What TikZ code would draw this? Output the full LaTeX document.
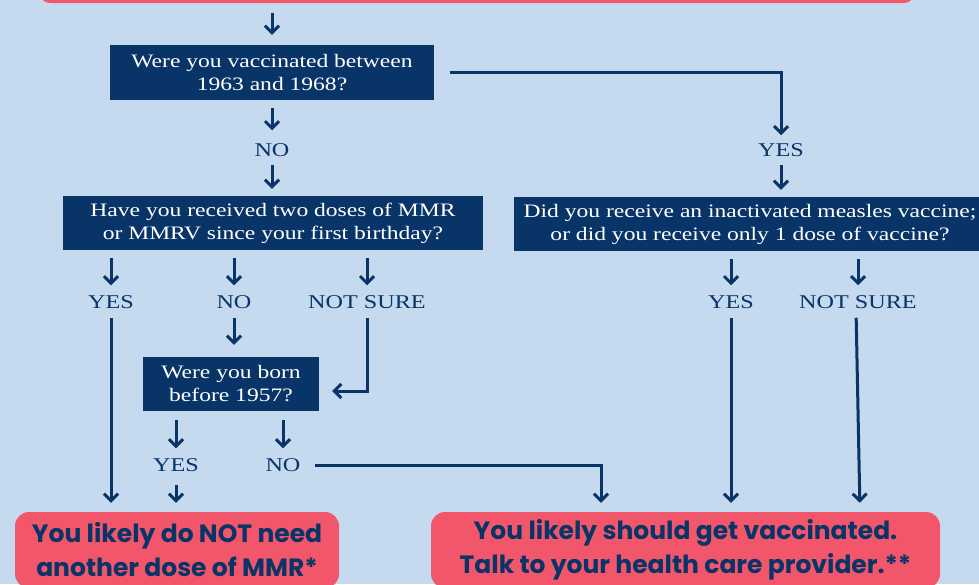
\documentclass[tikz,border=0pt]{standalone}
\usepackage{fontspec}
\newfontfamily\qfont{Liberation Serif}[FakeStretch=1.24]
\newfontfamily\rfont{Poppins}
\usetikzlibrary{arrows.meta}
\definecolor{bgblue}{RGB}{197,217,239}
\definecolor{navy}{RGB}{8,52,104}
\definecolor{pinkbox}{RGB}{242,86,106}
\tikzset{
  qbox/.style={fill=navy, text=white, align=center, inner sep=0pt, font=\qfont\fontsize{19}{23}\selectfont},
  lbl/.style={text=navy, inner sep=0pt, font=\qfont\fontsize{19.5}{23}\selectfont},
  rbox/.style={fill=pinkbox, text=navy, align=center, rounded corners=14pt, inner sep=0pt, font=\rfont\bfseries\fontsize{25}{34}\selectfont},
  arr/.style={draw=navy, line width=3pt, -{Straight Barb[length=7pt,width=14pt,line width=3pt]}},
  ln/.style={draw=navy, line width=3pt}
}
\begin{document}
\begin{tikzpicture}[x=1pt,y=-1pt]
\useasboundingbox (0,0) rectangle (979,584);
\clip (0,0) rectangle (979,584);
\fill[bgblue] (0,0) rectangle (979,584);
% top box (cut off)
\node[rbox, minimum width=880, minimum height=60] (top) at (477,-27) {};
% questions
\node[qbox, minimum width=324, minimum height=55] (q1) at (272,72.5) {Were you vaccinated between\\1963 and 1968?};
\node[qbox, minimum width=420, minimum height=54] (q2) at (273,223) {Have you received two doses of MMR\\or MMRV since your first birthday?};
\node[qbox, minimum width=472, minimum height=54] (q4) at (750,224) {Did you receive an inactivated measles vaccine;\\or did you receive only 1 dose of vaccine?};
\node[qbox, minimum width=176, minimum height=54] (q3) at (231,384) {Were you born\\before 1957?};
% labels
\node[lbl] (no1) at (272,150) {NO};
\node[lbl] (yes1) at (781,150) {YES};
\node[lbl] (yes2) at (111,302) {YES};
\node[lbl] (no2) at (234,302) {NO};
\node[lbl] (ns2) at (367,302) {NOT SURE};
\node[lbl] (yes4) at (731,302) {YES};
\node[lbl] (ns4) at (858,302) {NOT SURE};
\node[lbl] (yes3) at (176,465) {YES};
\node[lbl] (no3) at (283,465) {NO};
% results
\node[rbox, minimum width=324, minimum height=76] (res1) at (177,550) {You likely do NOT need\\another dose of MMR*};
\node[rbox, minimum width=509, minimum height=76] (res2) at (685.5,550) {You likely should get vaccinated.\\Talk to your health care provider.**};
% helper coordinates
\coordinate (cx1) at (272,0);
\coordinate (cx2) at (601,0);
\coordinate (cx4) at (856,0);
% connectors
\draw[arr, shorten <=10pt, shorten >=10pt] (cx1 |- top.south) -- (q1.north -| cx1);
\draw[arr, shorten <=8pt, shorten >=13pt] (q1.south) -- (no1.north);
\draw[arr, shorten <=8pt, shorten >=7pt] (no1.south) -- (q2.north -| no1);
\draw[arr, shorten >=8pt] ([xshift=16pt]q1.east) -| (yes1.north);
\draw[arr, shorten <=8pt, shorten >=7pt] (yes1.south) -- (q4.north -| yes1);
\draw[arr, shorten <=8pt, shorten >=10pt] (yes2 |- q2.south) -- (yes2.north);
\draw[arr, shorten <=8pt, shorten >=10pt] (no2 |- q2.south) -- (no2.north);
\draw[arr, shorten <=8pt, shorten >=10pt] (ns2 |- q2.south) -- (ns2.north);
\draw[arr, shorten <=8pt, shorten >=10pt] (yes4 |- q4.south) -- (yes4.north);
\draw[arr, shorten <=8pt, shorten >=10pt] (ns4 |- q4.south) -- (ns4.north);
\draw[arr, shorten <=9pt, shorten >=9pt] (yes2.south) -- (res1.north -| yes2);
\draw[arr, shorten <=9pt, shorten >=12pt] (no2.south) -- (q3.north -| no2);
\draw[arr, shorten <=9pt] (ns2.south) |- ([xshift=13pt,yshift=-7pt]q3.east);
\draw[arr, shorten <=9pt, shorten >=10pt] (yes3 |- q3.south) -- (yes3.north);
\draw[arr, shorten <=9pt, shorten >=10pt] (no3 |- q3.south) -- (no3.north);
\draw[arr, shorten <=13pt, shorten >=9pt] (yes3.south) -- (res1.north -| yes3);
\draw[arr, shorten >=9pt] ([xshift=14pt]no3.east) -| (cx2 |- res2.north);
\draw[arr, shorten <=9pt, shorten >=9pt] (yes4.south) -- (res2.north -| yes4);
\draw[arr, shorten <=9pt, shorten >=9pt] (ns4.south -| cx4) -- ([xshift=4pt]res2.north -| cx4);
\end{tikzpicture}
\end{document}
